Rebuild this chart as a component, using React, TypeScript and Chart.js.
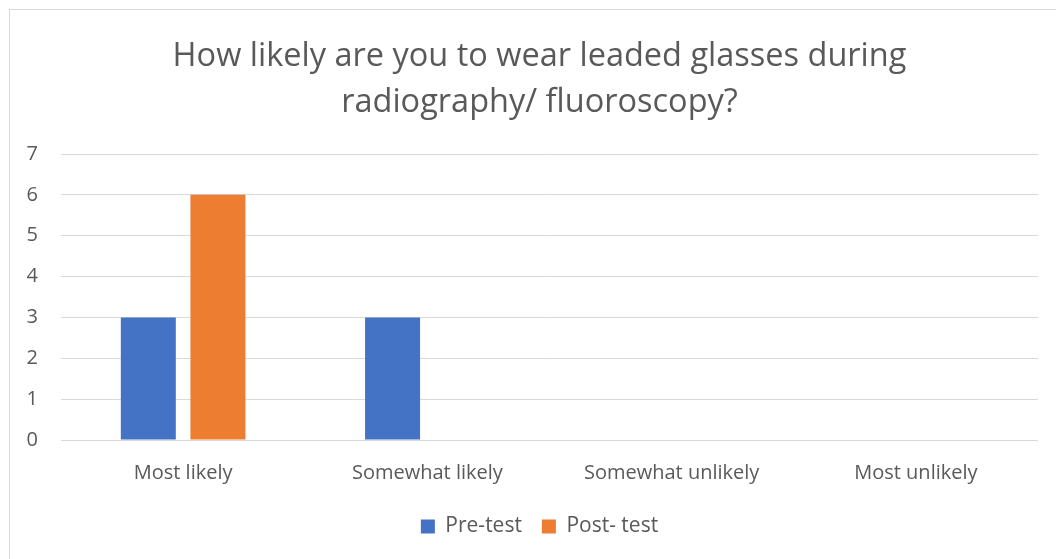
import React, { useEffect, useRef } from "react";
import { Chart, registerables } from "chart.js";

Chart.register(...registerables);

const categories = ["Most likely", "Somewhat likely", "Somewhat unlikely", "Most unlikely"];
const preTest = [3, 3, 0, 0];
const postTest = [6, 0, 0, 0];
const titleLines = ["How likely are you to wear leaded glasses during", "radiography/ fluoroscopy?"];

const FONT = "'Open Sans', 'Liberation Sans', sans-serif";
const TEXT = "#595959";

// Excel centres title and legend on the plot area rather than the whole canvas
const centreOnPlot = {
  id: "centreOnPlot",
  afterLayout(chart: any) {
    const boxes = [chart.titleBlock, chart.legend].filter(Boolean);
    for (const b of boxes) {
      b.left += 7;
      b.right += 7;
    }
  },
};

export default function App() {
  const ref = useRef<HTMLCanvasElement | null>(null);
  useEffect(() => {
    if (!ref.current) return;
    const chart = new Chart(ref.current, {
      type: "bar",
      data: {
        labels: categories,
        datasets: [
          { label: "Pre-test", data: preTest, backgroundColor: "#4472C4" },
          { label: "Post- test", data: postTest, backgroundColor: "#ED7D31" },
        ],
      },
      plugins: [centreOnPlot],
      options: {
        responsive: false,
        animation: false,
        categoryPercentage: 0.57,
        barPercentage: 0.79,
        layout: { padding: { left: 17, right: 18, top: 24, bottom: 12 } },
        plugins: {
          title: {
            display: true,
            text: titleLines,
            color: TEXT,
            font: { family: FONT, size: 32.5, weight: "normal", lineHeight: 1.4 },
            padding: { top: 0, bottom: 29 },
          },
          legend: {
            position: "bottom",
            labels: {
              color: TEXT,
              font: { family: FONT, size: 21 },
              boxWidth: 14,
              boxHeight: 14,
              padding: 20,
            },
          },
          tooltip: { enabled: false },
        },
        scales: {
          x: {
            grid: { display: false, drawTicks: false },
            border: { display: false },
            ticks: { color: TEXT, font: { family: FONT, size: 20 }, padding: 21 },
            afterFit: (s: any) => {
              s.height = 56;
            },
          },
          y: {
            min: 0,
            max: 7,
            ticks: { stepSize: 1, color: TEXT, font: { family: FONT, size: 20 }, padding: 23 },
            grid: { color: "#d9d9d9", lineWidth: 1, drawTicks: false },
            border: { display: false },
            afterFit: (s: any) => {
              s.width = 34;
            },
          },
        },
      },
    });
    return () => chart.destroy();
  }, []);
  return (
    <div
      style={{
        position: "absolute",
        left: 9,
        top: 9,
        width: 1047,
        height: 550,
        borderTop: "1px solid #d9d9d9",
        borderLeft: "1px solid #d9d9d9",
        background: "#fff",
        boxSizing: "border-box",
      }}
    >
      <canvas ref={ref} width={1046} height={549} style={{ display: "block" }} />
    </div>
  );
}
